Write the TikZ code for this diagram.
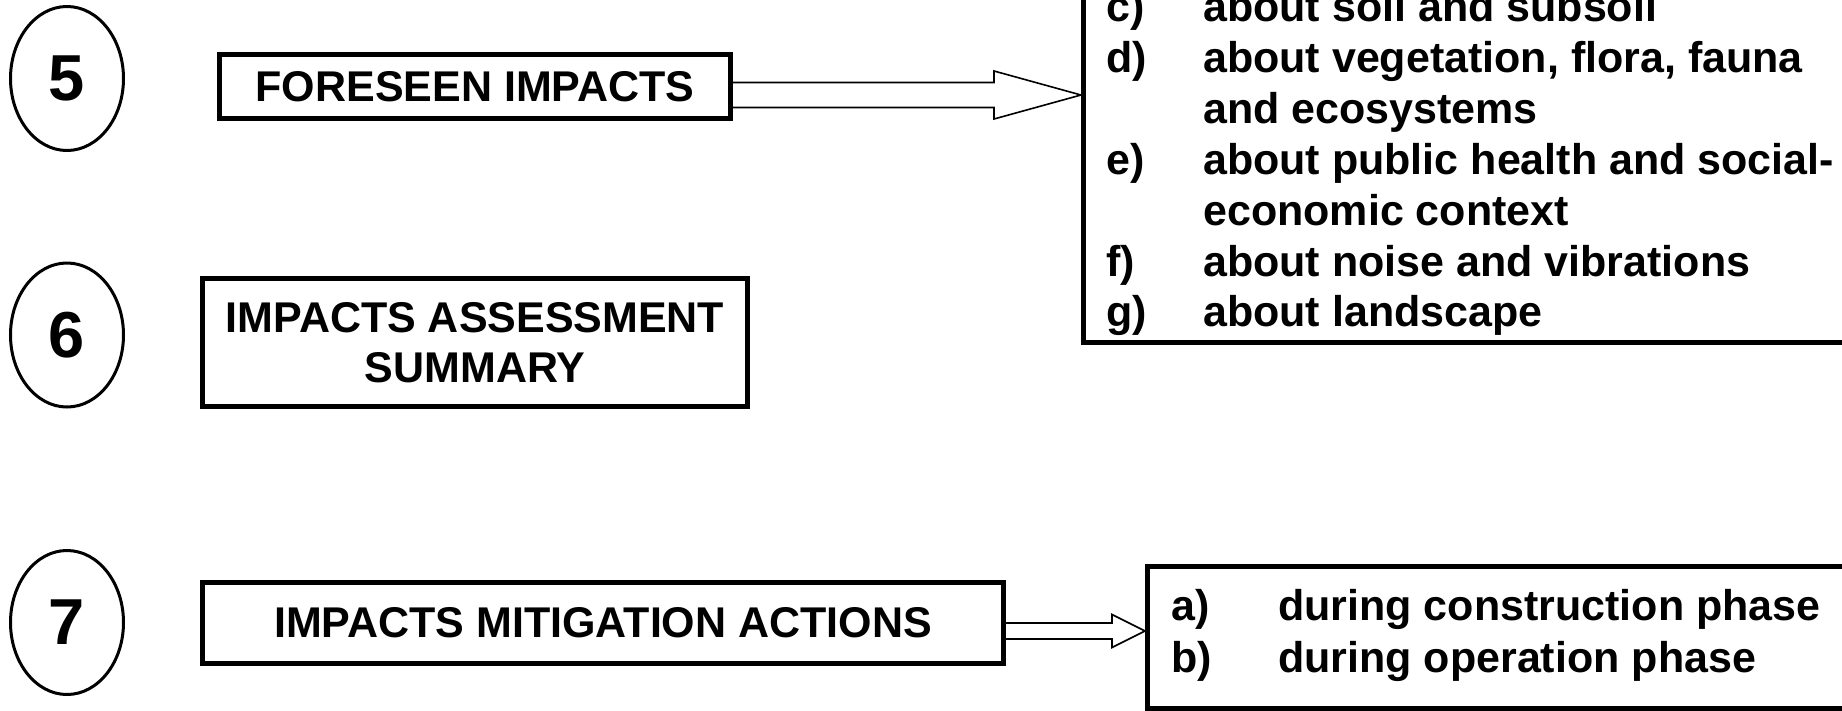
\documentclass[tikz,border=0pt]{standalone}
\usepackage{fontspec}
\setmainfont{Liberation Sans}
\usetikzlibrary{shapes.geometric,calc}

\begin{document}
\begin{tikzpicture}[x=1pt,y=-1pt,
  stepnum/.style={draw,line width=3pt,ellipse,minimum width=113pt,minimum height=144pt,
    inner sep=0pt,font=\fontsize{65}{65}\selectfont\bfseries},
  titlebox/.style={draw,line width=5pt,rectangle,inner sep=0pt,align=center,
    font=\fontsize{43}{50}\selectfont\bfseries},
  listbox/.style={draw,line width=5pt,rectangle,inner sep=0pt},
  listline/.style={anchor=base west,inner sep=0pt,font=\fontsize{43}{51}\selectfont\bfseries},
  blockarrow/.style={draw,line width=1.6pt,line join=miter},
]
\useasboundingbox (0,0) rectangle (1842,710);
\clip (0,0) rectangle (1842,710);

% step numbers
\node[stepnum] (n5) at (67,78.5) {5};
\node[stepnum] (n6) at (67,335) {6};
\node[stepnum] (n7) at (67,622.5) {7};

% step titles
\node[titlebox,minimum width=511pt,minimum height=64pt] (fore) at (475,86.5) {FORESEEN IMPACTS};
\node[titlebox,minimum width=545pt,minimum height=128pt] (assess) at (475,342.5) {IMPACTS ASSESSMENT\\SUMMARY};
\node[titlebox,minimum width=801pt,minimum height=81pt] (mitig) at (603,623) {IMPACTS MITIGATION ACTIONS};

% list frames (they run on past the page edges)
\node[listbox,minimum width=916.5pt,minimum height=542.5pt] (effects) at (1541.75,71.25) {};
\node[listbox,minimum width=852.5pt,minimum height=141.5pt] (phases) at (1573.75,637.25) {};

% impact list
\node[listline] (lc) at (1106,21) {c)};
\node[listline] (tc) at (1203,21) {about soil and subsoil};
\node[listline] (ld) at (1106,72) {d)};
\node[listline] (td) at (1203,72) {about vegetation, flora, fauna};
\node[listline] (td2) at (1203,123) {and ecosystems};
\node[listline] (le) at (1106,174) {e)};
\node[listline] (te) at (1203,174) {about public health and social-};
\node[listline] (te2) at (1203,225) {economic context};
\node[listline] (lf) at (1106,276) {f)};
\node[listline] (tf) at (1203,276) {about noise and vibrations};
\node[listline] (lg) at (1106,326) {g)};
\node[listline] (tg) at (1203,326) {about landscape};

% mitigation phases
\node[listline] (la) at (1171,620) {a)};
\node[listline] (ta) at (1278,620) {during construction phase};
\node[listline] (lb) at (1171,672) {b)};
\node[listline] (tb) at (1278,672) {during operation phase};

% block arrows
\coordinate (axis1) at (0,95);
\coordinate (tip1) at (effects.west |- axis1);
\draw[blockarrow] ($(fore.east|-tip1)+(0,-12.5)$) -- ($(tip1)+(-87,-12.5)$)
  -- ($(tip1)+(-87,-24)$) -- (tip1) -- ($(tip1)+(-87,24)$)
  -- ($(tip1)+(-87,12.5)$) -- ($(fore.east|-tip1)+(0,12.5)$);

\coordinate (axis2) at (0,631);
\coordinate (tip2) at (phases.west |- axis2);
\draw[blockarrow] ($(mitig.east|-tip2)+(0,-8)$) -- ($(tip2)+(-33,-8)$)
  -- ($(tip2)+(-33,-16.5)$) -- (tip2) -- ($(tip2)+(-33,16.5)$)
  -- ($(tip2)+(-33,8)$) -- ($(mitig.east|-tip2)+(0,8)$);
\end{tikzpicture}
\end{document}
